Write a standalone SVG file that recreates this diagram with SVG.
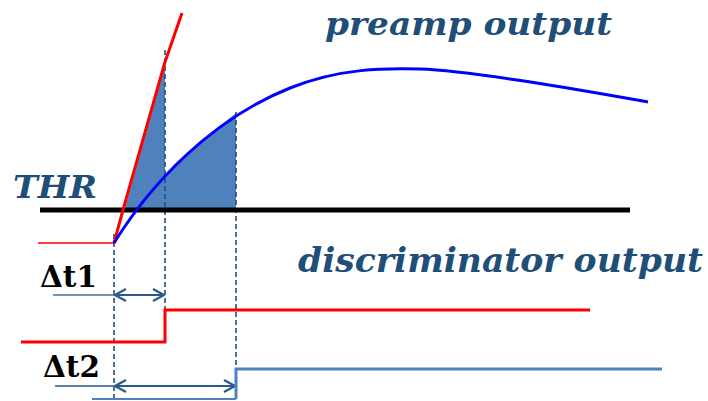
<svg xmlns="http://www.w3.org/2000/svg" width="708" height="401" viewBox="0 0 708 401">
<style>
.lbl{font-family:"DejaVu Serif","Liberation Serif",serif;font-weight:bold;font-style:italic;fill:#1F4E79}
.dt{font-family:"DejaVu Serif","Liberation Serif",serif;font-weight:bold;fill:#000}
.dash{stroke:#1F4E79;stroke-width:1.6;stroke-dasharray:5 3;fill:none}
.arr{stroke:#2A5A8C;stroke-width:2.2;fill:none}
</style>
<defs>
<marker id="ah" viewBox="0 0 14 14" refX="13" refY="7" markerWidth="14" markerHeight="14" markerUnits="userSpaceOnUse" orient="auto-start-reverse">
<path d="M2,1 L13,7 L2,13" fill="none" stroke="#2A5A8C" stroke-width="2.2" stroke-linejoin="miter"/>
</marker>
</defs>
<rect width="708" height="401" fill="#fff"/>
<g id="shading">
<polygon points="125,208 165,66 165,175 185,157 210,134 236,113 236,208" fill="#4F81BD"/>
</g>
<g id="connectors">
<line class="dash" x1="114" y1="234" x2="114" y2="401"/>
<line class="dash" x1="165" y1="50" x2="165" y2="310"/>
<line class="dash" x1="236" y1="112" x2="236" y2="369"/>
<line x1="53" y1="295" x2="114" y2="295" stroke="#41719C" stroke-width="1.5"/>
<line class="arr" x1="115" y1="295" x2="164" y2="295" marker-start="url(#ah)" marker-end="url(#ah)"/>
<line x1="55" y1="386" x2="114" y2="386" stroke="#2A5A8C" stroke-width="1.5"/>
<line class="arr" x1="115" y1="386" x2="235" y2="386" marker-start="url(#ah)" marker-end="url(#ah)"/>
</g>
<g id="threshold">
<line x1="40" y1="210" x2="630" y2="210" stroke="#000" stroke-width="5"/>
</g>
<g id="red-signal">
<line x1="38" y1="243" x2="115" y2="243" stroke="#FF0000" stroke-width="1.5"/>
<polyline points="114,243 123,210 165,62 182,13" fill="none" stroke="#FF0000" stroke-width="3" stroke-linejoin="round"/>
</g>
<g id="blue-signal">
<path d="M114,243 C150,185 210,120 290,88 C340,68 385,68 420,69 C470,70.5 580,90 648,102" fill="none" stroke="#0000FF" stroke-width="3"/>
</g>
<g id="red-step">
<polyline points="21,342 165,342 165,310 590,310" fill="none" stroke="#FF0000" stroke-width="3"/>
</g>
<g id="blue-step">
<line x1="92" y1="399" x2="236" y2="399" stroke="#4F81BD" stroke-width="2"/>
<polyline points="236,399 236,369 662,369" fill="none" stroke="#4F81BD" stroke-width="3"/>
</g>
<g id="labels">
<text class="lbl" x="325" y="35" font-size="32" textLength="287" lengthAdjust="spacingAndGlyphs">preamp output</text>
<text class="lbl" x="13" y="198" font-size="32" textLength="84" lengthAdjust="spacingAndGlyphs">THR</text>
<text class="lbl" x="298" y="272" font-size="33" textLength="405" lengthAdjust="spacingAndGlyphs">discriminator output</text>
<text class="dt" x="40" y="287" font-size="30" textLength="57" lengthAdjust="spacingAndGlyphs">Δt1</text>
<text class="dt" x="43" y="377" font-size="30" textLength="57" lengthAdjust="spacingAndGlyphs">Δt2</text>
</g>
</svg>
